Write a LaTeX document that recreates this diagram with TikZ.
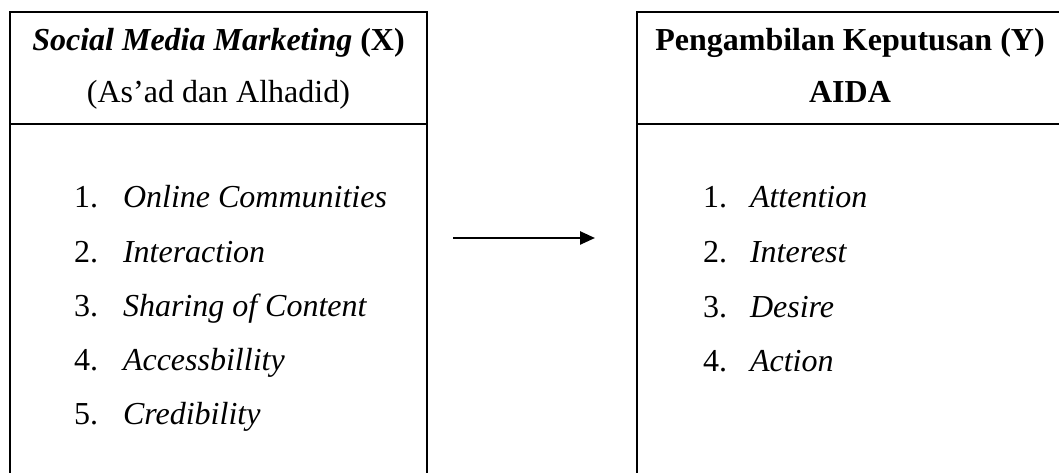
\documentclass[tikz,border=0pt]{standalone}
\usepackage{fontspec}
\setmainfont{Liberation Serif}
\usetikzlibrary{positioning,arrows.meta}

\begin{document}
\begin{tikzpicture}[x=1pt,y=1pt,line width=2pt]
	\tikzstyle{head}=[rectangle, draw, minimum height=112pt, inner sep=0pt, outer sep=0pt, align=center, text depth=6pt, font=\fontsize{32}{52}\selectfont]
	\tikzstyle{body}=[rectangle, draw, minimum height=380pt, inner sep=0pt, outer sep=0pt]
	\tikzstyle{item}=[anchor=base west, inner sep=0pt, font=\fontsize{32}{38}\selectfont]
	\tikzstyle{arr}=[line width=2.5pt, -{Triangle[length=15pt,width=13pt]}]

	\useasboundingbox (0,0) rectangle (1059,473);
	\clip (0,0) rectangle (1059,473);

	\node[head, minimum width=417pt] (xhead) at (218.5,405) {\textbf{\textit{Social Media Marketing}} \textbf{(X)}\\(As’ad dan Alhadid)};
	\node[body, minimum width=417pt] (xbody) [below=0pt of xhead] {};
	\node[head, minimum width=426pt] (yhead) at (850,405) {\textbf{Pengambilan Keputusan (Y)}\\\textbf{AIDA}};
	\node[body, minimum width=426pt] (ybody) [below=0pt of yhead] {};

	\foreach \n/\txt in {1/Online Communities,2/Interaction,3/Sharing of Content,4/Accessbillity,5/Credibility}
	\node[item] (x\n) at ([shift={(63pt,-84pt-54.2pt*(\n-1))}]xbody.north west) {\makebox[49pt][l]{\n.}\textit{\txt}};

	\foreach \n/\txt in {1/Attention,2/Interest,3/Desire,4/Action}
	\node[item] (y\n) at ([shift={(65pt,-84pt-54.6pt*(\n-1))}]ybody.north west) {\makebox[47pt][l]{\n.}\textit{\txt}};

	\draw[arr, shorten <=26pt, shorten >=42pt] ([yshift=76pt]xbody.east) -- ([yshift=76pt]ybody.west);
\end{tikzpicture}
\end{document}
